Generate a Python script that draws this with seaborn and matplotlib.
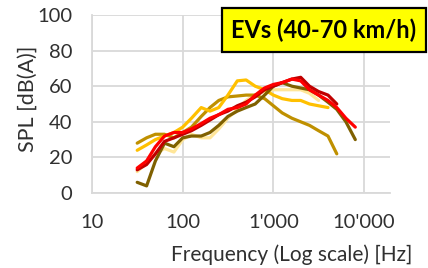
import numpy as np
import pandas as pd
import matplotlib
matplotlib.use("Agg")
import matplotlib.pyplot as plt
import seaborn as sns

freqs = [31.5, 40, 50, 63, 80, 100, 125, 160, 200, 250, 315, 400, 500, 630,
         800, 1000, 1250, 1600, 2000, 2500, 3150, 4000, 5000, 6300, 8000]
nan = np.nan
pale = [12, 17, 22, 25, 23, 30, 33, 31, 31, 36, 42, 47, 52, 55, 57, 58, 58, 58, 58, 56, 52,
        nan, nan, nan, nan]
goldenrod = [28, 31, 33, 33, 31, 34, 37, 43, 48, 52, 54, 54.5, 55, 55, 53, 49, 45, 42, 40, 38, 35,
             32, 22, nan, nan]
yellow = [24, 27, 30, 32, 34, 37, 42, 48, 46, 48, 55, 63, 63.5, 60, 58, 55, 53, 52, 52, 50, 49,
          48, nan, nan, nan]
olive = [6, 4, 18, 28, 26, 31, 32, 32, 34, 38, 43, 46, 48, 50, 55, 60, 62, 60, 59, 58, 55,
         51, 47, 40, 30]
darkred = [13, 16, 22, 29, 31, 33, 35, 38, 41, 44, 46, 49, 51, 54, 58, 60, 62, 64, 65, 60, 57,
           55, 50, nan, nan]
red = [14, 18, 26, 32, 34, 34, 36, 39, 42, 44, 47, 48, 50, 55, 59, 61, 62, 64, 63, 58, 55,
       52, 48, 42, 37]

series_names = ["pale", "goldenrod", "yellow", "olive", "darkred", "red"]
series_vals = [pale, goldenrod, yellow, olive, darkred, red]
palette = {"pale": "#FFE699", "goldenrod": "#BF9000", "yellow": "#FFC000",
           "olive": "#7F6000", "darkred": "#C00000", "red": "#FF0000"}

rows = []
for name, vals in zip(series_names, series_vals):
    for f, v in zip(freqs, vals):
        if not np.isnan(v):
            rows.append({"f": f, "spl": v, "s": name})
df = pd.DataFrame(rows)

sns.set_theme(style="white")
plt.rcParams["font.family"] = ["Lato", "DejaVu Sans"]
txt = "#303030"

fig = plt.figure(figsize=(4.28, 2.68), dpi=100)
ax = fig.add_axes([92 / 428, 1 - 193 / 268, (390 - 92) / 428, (193 - 15) / 268])

sns.lineplot(data=df, x="f", y="spl", hue="s", palette=palette, hue_order=series_names,
             estimator=None, sort=False, linewidth=2.3, legend=False, ax=ax)

ax.set_xscale("log")
ax.set_xlim(10, 10 ** (4 + 26 / 91))
ax.set_ylim(0, 100)
ax.set_xticks([10, 100, 1000, 10000])
ax.set_xticklabels(["10", "100", "1'000", "10'000"])
ax.set_yticks([0, 20, 40, 60, 80, 100])
ax.xaxis.set_minor_locator(matplotlib.ticker.NullLocator())
ax.grid(True, color="#D9D9D9", linewidth=1.3)
ax.set_axisbelow(True)
for sp in ["top", "right"]:
    ax.spines[sp].set_visible(False)
for sp in ["left", "bottom"]:
    ax.spines[sp].set_color("#D9D9D9")
    ax.spines[sp].set_linewidth(1.3)
ax.tick_params(axis="both", length=0, labelsize=14.5, colors=txt)
ax.tick_params(axis="x", pad=15)
ax.tick_params(axis="y", pad=14)
ax.set_xlabel("Frequency (Log scale) [Hz]", fontsize=15, color=txt)
ax.set_ylabel("SPL [dB(A)]", fontsize=15.5, color=txt)
ax.xaxis.set_label_coords((292 - 92) / 298, 1 - (255 - 15) / 178)
ax.yaxis.set_label_coords(-(92 - 28) / 298, (193 - 98.5) / 178)
ax.xaxis.label.set_va("center")
ax.yaxis.label.set_va("center")

fig.text(324 / 428, 1 - 30 / 268, "EVs (40-70 km/h)", fontsize=17, fontweight="bold",
         color="black", ha="center", va="center",
         bbox=dict(boxstyle="square,pad=0.42", facecolor="#FFFF00", edgecolor="black",
                   linewidth=1.6))

fig.savefig("out.png", dpi=100)
